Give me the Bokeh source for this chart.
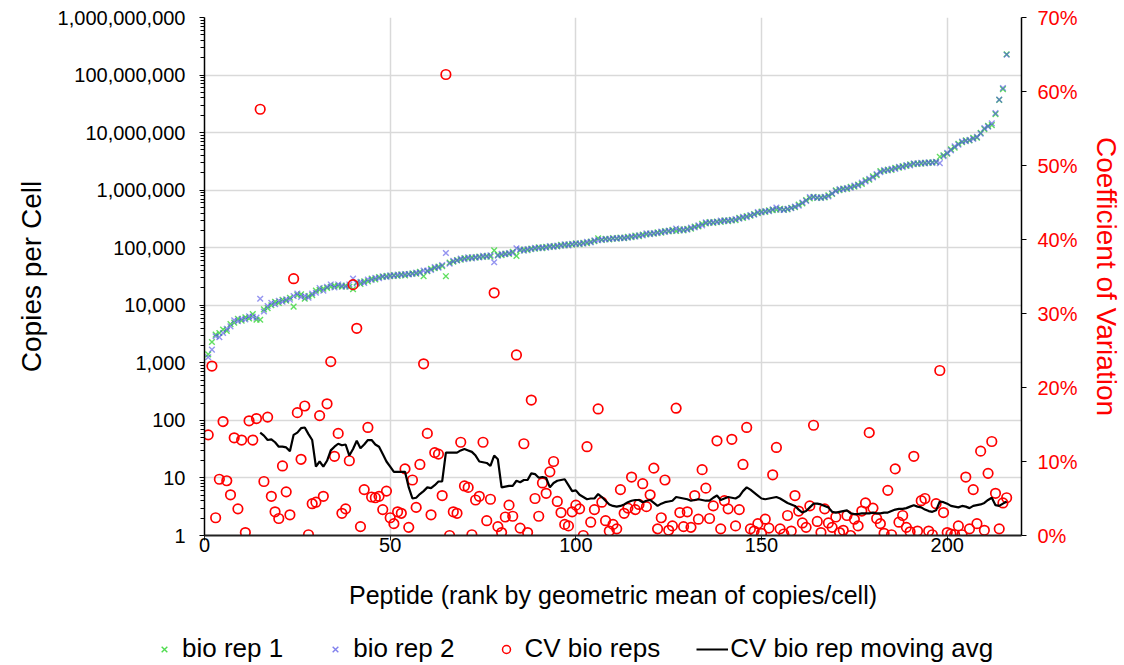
from bokeh.plotting import figure
from bokeh.layouts import column
from bokeh.models import (Range1d, LinearAxis, LinearScale, FixedTicker, NumeralTickFormatter,
                          PrintfTickFormatter, Legend, LegendItem)
from bokeh.embed import file_html
from bokeh.resources import INLINE

# ---------------- data ----------------
peptide_rank = list(range(1, 217))

bio_rep_1 = [
    1.4e3, 2.3e3, 3.1e3, 3.3e3, 3.8e3, 3.6e3, 4.7e3, 5.0e3, 5.8e3, 5.4e3,
    6.2e3, 5.9e3, 7.0e3, 5.6e3, 5.6e3, 8.5e3, 8.9e3, 1.0e4, 1.15e4, 1.1e4,
    1.25e4, 1.2e4, 1.35e4, 9.5e3, 1.5e4, 1.55e4, 1.3e4, 1.45e4, 1.5e4, 1.8e4,
    1.85e4, 1.95e4, 2.0e4, 2.1e4, 2.2e4, 2.15e4, 2.1e4, 2.2e4, 2.1e4, 1.9e4,
    2.5e4, 2.35e4, 2.6e4, 2.6e4, 2.9e4, 2.8e4, 3.1e4, 3.1e4, 3.25e4, 3.2e4,
    3.35e4, 3.25e4, 3.45e4, 3.3e4, 3.5e4, 3.6e4, 3.55e4, 3.8e4, 3.2e4, 3.9e4,
    4.3e4, 4.4e4, 4.7e4, 4.8e4, 3.2e4, 5.5e4, 5.7e4, 6.1e4, 6.2e4, 6.6e4,
    6.5e4, 6.8e4, 6.7e4, 7.0e4, 6.9e4, 7.2e4, 7.0e4, 9.0e4, 7.5e4, 7.4e4,
    7.9e4, 7.8e4, 8.5e4, 7.2e4, 9.0e4, 9.3e4, 9.1e4, 9.7e4, 9.6e4, 1.02e5,
    9.8e4, 1.04e5, 1.03e5, 1.07e5, 1.05e5, 1.12e5, 1.1e5, 1.14e5, 1.13e5, 1.19e5,
    1.15e5, 1.22e5, 1.2e5, 1.28e5, 1.3e5, 1.45e5, 1.36e5, 1.43e5, 1.39e5, 1.47e5,
    1.43e5, 1.5e5, 1.46e5, 1.54e5, 1.52e5, 1.62e5, 1.59e5, 1.7e5, 1.7e5, 1.77e5,
    1.75e5, 1.85e5, 1.83e5, 1.95e5, 1.92e5, 2.04e5, 1.95e5, 2.08e5, 2.0e5, 2.12e5,
    2.15e5, 2.34e5, 2.35e5, 2.6e5, 2.65e5, 2.8e5, 2.7e5, 2.85e5, 2.82e5, 3.0e5,
    2.9e5, 3.05e5, 3.0e5, 3.3e5, 3.3e5, 3.55e5, 3.6e5, 3.85e5, 4.0e5, 4.25e5,
    4.2e5, 4.45e5, 4.5e5, 4.6e5, 4.75e5, 4.6e5, 4.65e5, 4.95e5, 5.05e5, 5.6e5,
    5.9e5, 6.7e5, 7.2e5, 7.7e5, 7.3e5, 7.5e5, 7.5e5, 8.1e5, 8.6e5, 9.9e5,
    1.0e6, 1.07e6, 1.05e6, 1.14e6, 1.15e6, 1.25e6, 1.29e6, 1.48e6, 1.52e6, 1.74e6,
    1.82e6, 2.14e6, 2.15e6, 2.28e6, 2.25e6, 2.45e6, 2.47e6, 2.62e6, 2.65e6, 2.8e6,
    2.83e6, 2.92e6, 2.9e6, 3.0e6, 2.98e6, 3.06e6, 3.05e6, 3.8e6, 4.05e6, 4.3e6,
    5.1e6, 5.5e6, 6.4e6, 6.8e6, 7.35e6, 7.3e6, 8.1e6, 8.2e6, 9.9e6, 1.15e7,
    1.31e7, 1.35e7, 2.1e7, 3.7e7, 5.7e7, 2.3e8,
]

bio_rep_2 = [
    1.25e3, 1.7e3, 2.9e3, 2.8e3, 3.3e3, 3.9e3, 4.3e3, 5.5e3, 5.3e3, 5.8e3,
    5.7e3, 6.4e3, 6.3e3, 6.1e3, 1.3e4, 7.8e3, 9.7e3, 1.1e4, 1.05e4, 1.2e4,
    1.15e4, 1.27e4, 1.25e4, 1.45e4, 1.6e4, 1.4e4, 1.45e4, 1.35e4, 1.6e4, 1.65e4,
    2.0e4, 1.8e4, 2.1e4, 2.3e4, 2.05e4, 2.3e4, 2.2e4, 2.1e4, 2.3e4, 2.9e4,
    2.4e4, 2.55e4, 2.45e4, 2.8e4, 2.75e4, 3.0e4, 2.95e4, 3.2e4, 3.1e4, 3.3e4,
    3.25e4, 3.4e4, 3.35e4, 3.5e4, 3.45e4, 3.5e4, 3.7e4, 3.65e4, 4.0e4, 4.0e4,
    4.1e4, 4.6e4, 4.5e4, 5.0e4, 8.1e4, 5.3e4, 5.9e4, 6.0e4, 6.5e4, 6.3e4,
    6.8e4, 6.5e4, 6.9e4, 6.8e4, 7.2e4, 7.0e4, 7.4e4, 5.6e4, 7.3e4, 7.8e4,
    7.7e4, 8.1e4, 8.1e4, 9.8e4, 9.3e4, 8.9e4, 9.5e4, 9.4e4, 1.0e5, 9.8e4,
    1.02e5, 1.0e5, 1.07e5, 1.03e5, 1.09e5, 1.08e5, 1.14e5, 1.1e5, 1.17e5, 1.16e5,
    1.19e5, 1.18e5, 1.26e5, 1.24e5, 1.34e5, 1.35e5, 1.4e5, 1.39e5, 1.43e5, 1.43e5,
    1.47e5, 1.46e5, 1.5e5, 1.49e5, 1.58e5, 1.55e5, 1.65e5, 1.63e5, 1.78e5, 1.72e5,
    1.8e5, 1.79e5, 1.9e5, 1.88e5, 1.98e5, 1.96e5, 2.15e5, 2.0e5, 2.08e5, 2.06e5,
    2.23e5, 2.25e5, 2.45e5, 2.45e5, 2.75e5, 2.7e5, 2.8e5, 2.78e5, 2.95e5, 2.9e5,
    3.0e5, 2.98e5, 3.15e5, 3.2e5, 3.45e5, 3.4e5, 3.7e5, 3.75e5, 4.15e5, 4.1e5,
    4.35e5, 4.3e5, 4.65e5, 5.0e5, 4.6e5, 4.55e5, 4.75e5, 4.85e5, 5.2e5, 5.4e5,
    6.1e5, 6.5e5, 7.6e5, 7.5e5, 7.5e5, 7.3e5, 7.7e5, 7.8e5, 8.8e5, 9.6e5,
    1.04e6, 1.03e6, 1.09e6, 1.1e6, 1.2e6, 1.21e6, 1.35e6, 1.42e6, 1.58e6, 1.66e6,
    1.9e6, 2.05e6, 2.23e6, 2.2e6, 2.34e6, 2.35e6, 2.55e6, 2.52e6, 2.74e6, 2.7e6,
    2.93e6, 2.85e6, 3.0e6, 2.92e6, 3.06e6, 2.98e6, 3.12e6, 2.95e6, 3.9e6, 4.45e6,
    4.9e6, 5.75e6, 6.2e6, 7.0e6, 7.1e6, 7.5e6, 7.8e6, 8.45e6, 9.6e6, 1.2e7,
    1.27e7, 1.45e7, 2.18e7, 3.75e7, 5.95e7, 2.25e8,
]

# coefficient of variation between bio reps, in percent
cv_bio_reps = [
    13.6, 22.9, 2.4, 7.6, 15.4, 7.4, 5.5, 13.2, 3.6, 12.9,
    0.4, 15.5, 12.9, 15.8, 57.6, 7.3, 16.0, 5.3, 3.2, 2.3,
    9.4, 5.9, 2.8, 34.7, 16.6, 10.3, 17.5, 0.1, 4.3, 4.5,
    16.2, 5.3, 17.8, 23.5, 10.7, 13.8, 3.0, 3.6, 10.1, 33.9,
    28.0, 1.2, 6.2, 14.6, 5.2, 5.1, 5.3, 3.5, 6.0, 2.4,
    1.6, 3.2, 3.0, 9.0, 1.1, 7.5, 3.8, 9.6, 23.2, 13.8,
    2.8, 11.2, 11.0, 5.4, 62.3, 0.0, 3.2, 3.0, 12.6, 6.7,
    6.5, 0.1, 4.8, 5.3, 12.6, 2.0, 4.9, 32.8, 1.2, 0.4,
    2.5, 4.1, 2.6, 24.4, 1.0, 12.4, 0.4, 18.3, 5.0, 2.6,
    7.1, 5.7, 8.6, 10.0, 4.6, 3.1, 1.5, 1.3, 3.2, 4.1,
    3.6, 0.0, 12.0, 1.8, 3.5, 17.1, 4.5, 2.0, 0.6, 1.5,
    0.9, 6.2, 3.0, 3.7, 7.9, 3.5, 4.2, 7.0, 3.9, 5.5,
    9.1, 0.9, 2.4, 7.5, 0.7, 1.3, 17.2, 3.1, 1.2, 3.2,
    1.1, 5.4, 2.2, 8.9, 6.4, 2.3, 4.0, 12.8, 0.9, 4.7,
    3.6, 13.0, 1.3, 3.5, 9.6, 14.6, 0.9, 0.6, 1.6, 0.3,
    2.2, 1.0, 8.2, 11.9, 0.9, 0.2, 2.7, 0.6, 5.4, 3.3,
    1.7, 1.1, 4.0, 14.9, 1.9, 0.4, 3.6, 1.7, 1.1, 2.5,
    0.4, 0.7, 2.7, 0.0, 2.2, 1.3, 3.3, 4.4, 13.9, 3.7,
    2.3, 1.6, 0.3, 6.1, 0.1, 9.0, 1.8, 2.7, 1.1, 0.5,
    10.7, 0.6, 4.7, 5.0, 0.6, 0.1, 4.3, 22.3, 3.1, 0.4,
    0.2, 0.1, 1.3, 0.1, 7.9, 0.9, 6.2, 1.6, 11.4, 0.7,
    8.4, 12.7, 5.7, 0.9, 4.4, 5.1,
]

# moving average of CV (percent), defined from peptide 15 to 216
cv_moving_avg_rank = list(range(15, 217))
cv_moving_avg = [
    13.9, 13.5, 12.9, 13.0, 12.6, 12.0, 12.0, 11.9, 11.4, 13.6,
    13.9, 14.5, 14.6, 13.7, 12.9, 9.3, 10.0, 9.3, 10.1, 11.5,
    12.0, 12.4, 12.2, 12.3, 10.8, 11.7, 12.8, 11.8, 12.3, 12.9,
    12.9, 12.3, 12.0, 11.0, 10.0, 9.3, 8.6, 8.6, 8.6, 8.6,
    6.5, 5.0, 5.1, 5.6, 6.0, 6.5, 6.4, 6.8, 7.3, 7.3,
    11.2, 11.2, 11.2, 11.2, 11.5, 11.7, 11.5, 11.3, 10.8, 10.0,
    9.9, 9.8, 9.4, 10.8, 10.3, 6.5, 6.6, 6.7, 6.7, 7.4,
    7.2, 7.5, 7.5, 8.4, 8.3, 7.8, 7.9, 7.8, 6.5, 7.1,
    7.4, 7.5, 7.6, 6.8, 6.0, 6.1, 5.5, 5.2, 4.9, 5.0,
    5.0, 5.6, 5.2, 4.7, 4.2, 4.0, 3.9, 4.0, 4.2, 4.5,
    4.7, 4.8, 4.8, 4.5, 4.7, 4.8, 4.4, 4.0, 4.3, 4.5,
    4.6, 4.7, 5.2, 5.1, 5.0, 4.9, 4.7, 4.8, 4.9, 4.8,
    4.7, 4.7, 5.1, 5.4, 4.8, 5.0, 5.2, 5.1, 5.0, 5.3,
    6.0, 6.5, 6.2, 5.8, 5.4, 5.0, 4.9, 5.0, 5.1, 5.2,
    5.0, 4.7, 4.4, 4.2, 4.0, 3.5, 3.1, 3.3, 3.8, 4.3,
    4.3, 4.2, 4.0, 3.8, 3.2, 3.1, 3.2, 3.3, 3.4, 3.0,
    2.9, 2.9, 3.0, 3.0, 3.0, 3.1, 3.0, 3.0, 3.1, 3.1,
    3.3, 3.5, 3.6, 3.6, 3.7, 3.9, 4.1, 3.9, 3.8, 3.5,
    3.3, 3.2, 3.4, 4.6, 4.5, 4.3, 4.0, 3.9, 3.8, 4.0,
    3.9, 3.7, 4.0, 4.1, 4.2, 4.4, 4.8, 5.1, 4.1, 4.0,
    4.3, 4.6,
]

x_ticks = [0, 50, 100, 150, 200]
y_decades = [1, 10, 100, 1000, 10000, 100000, 1000000, 10000000, 100000000, 1000000000]
cv_ticks = [0, 10, 20, 30, 40, 50, 60, 70]

series_labels = ["bio rep 1", "bio rep 2", "CV bio reps", "CV bio rep moving avg"]

# ---------------- styles ----------------
FONT = "Liberation Sans"
GREEN = "#4fdc4f"
BLUE = "#4c4ce6"
RED = "#ff0000"

# ---------------- main figure ----------------
p = figure(width=1124, height=615, y_axis_type="log",
           x_range=Range1d(0, 220), y_range=Range1d(1, 1e9),
           output_backend="svg", toolbar_location=None,
           min_border_left=204, min_border_right=102,
           min_border_top=17, min_border_bottom=80)
p.outline_line_color = None
p.background_fill_color = "white"
p.border_fill_color = "white"
p.frame_align = False

p.extra_y_ranges = {"cv": Range1d(0, 70)}
p.extra_y_scales = {"cv": LinearScale()}

minor = [m * d for d in y_decades[:-1] for m in range(2, 10)]
yticker = FixedTicker(ticks=y_decades, minor_ticks=minor)
xticker = FixedTicker(ticks=x_ticks)

p.xaxis.ticker = xticker
p.yaxis.ticker = yticker
p.xgrid.ticker = xticker
p.ygrid.ticker = yticker
for g in (p.xgrid, p.ygrid):
    g.grid_line_color = "#d9d9d9"
    g.grid_line_width = 1.5

p.yaxis.formatter = NumeralTickFormatter(format="0,0")

xa = p.xaxis[0]
xa.axis_label = "Peptide (rank by geometric mean of copies/cell)"
xa.axis_line_color = "#222222"
xa.axis_line_width = 2
xa.major_tick_line_color = "#222222"
xa.major_tick_out = 5
xa.major_tick_in = 0
xa.minor_tick_line_color = None
xa.major_label_standoff = -3
xa.axis_label_standoff = 26

ya = p.yaxis[0]
ya.axis_label = "Copies per Cell"
ya.axis_line_color = "black"
ya.axis_line_width = 1.5
ya.major_tick_line_color = "black"
ya.minor_tick_line_color = "black"
ya.major_tick_out = 5
ya.major_tick_in = 0
ya.minor_tick_out = 4
ya.minor_tick_in = 0
ya.major_label_standoff = 14
ya.axis_label_standoff = 8

ax2 = LinearAxis(y_range_name="cv", ticker=FixedTicker(ticks=cv_ticks),
                 formatter=PrintfTickFormatter(format="%d%%"),
                 axis_label="Coefficient of Variation")
ax2.axis_line_color = "black"
ax2.axis_line_width = 1.5
ax2.major_tick_line_color = "black"
ax2.major_tick_out = 5
ax2.major_tick_in = 0
ax2.minor_tick_line_color = None
ax2.major_label_standoff = 11
ax2.axis_label_standoff = 10
ax2.major_label_text_color = RED
ax2.axis_label_text_color = RED
p.add_layout(ax2, "right")

for ax in (xa, ya, ax2):
    ax.major_label_text_font = FONT
    ax.major_label_text_font_size = "20px"
    ax.axis_label_text_font = FONT
    ax.axis_label_text_font_style = "normal"
xa.axis_label_text_font_size = "25px"
ya.axis_label_text_font_size = "28px"
ax2.axis_label_text_font_size = "28px"
xa.major_label_text_color = "black"
ya.major_label_text_color = "black"
xa.axis_label_text_color = "black"
ya.axis_label_text_color = "black"

# ---------------- glyphs ----------------
p.scatter(peptide_rank, bio_rep_1, marker="x", size=8, line_width=1.4,
          line_color=GREEN, line_alpha=0.9)
p.scatter(peptide_rank, bio_rep_2, marker="x", size=8, line_width=1.4,
          line_color=BLUE, line_alpha=0.6)
p.scatter(peptide_rank, cv_bio_reps, marker="circle", size=9.5,
          fill_color=None, line_color=RED, line_width=1.7,
          y_range_name="cv")
p.line(cv_moving_avg_rank, cv_moving_avg, line_color="black",
       line_width=2.2, y_range_name="cv")

# ---------------- legend strip (separate small figure below) ----------------
# the same series are drawn here, but the strip's ranges keep them out of view;
# only their legend keys are shown
lg = figure(width=1124, height=50, x_range=Range1d(-2, -1), y_range=Range1d(-2, -1),
            output_backend="svg", toolbar_location=None,
            min_border_left=0, min_border_right=0, min_border_top=0, min_border_bottom=0)
lg.frame_align = False
lg.axis.visible = False
lg.grid.visible = False
lg.outline_line_color = None
lg.background_fill_color = "white"
lg.border_fill_color = "white"
k1 = lg.scatter(peptide_rank, bio_rep_1, marker="x", size=7, line_width=1.4, line_color=GREEN)
k2 = lg.scatter(peptide_rank, bio_rep_2, marker="x", size=7, line_width=1.4, line_color=BLUE,
                line_alpha=0.7)
k3 = lg.scatter(peptide_rank, cv_bio_reps, marker="circle", size=8, fill_color=None,
                line_color=RED, line_width=1.5)
k4 = lg.line(cv_moving_avg_rank, cv_moving_avg, line_color="black", line_width=2.2)

legend = Legend(items=[LegendItem(label=series_labels[0], renderers=[k1]),
                       LegendItem(label=series_labels[1], renderers=[k2]),
                       LegendItem(label=series_labels[2], renderers=[k3]),
                       LegendItem(label=series_labels[3], renderers=[k4])],
                orientation="horizontal", location=(148, 1),
                label_text_font=FONT, label_text_font_size="26px",
                label_text_color="black",
                glyph_width=32, glyph_height=20, label_standoff=2,
                spacing=36, padding=2, margin=0,
                border_line_color=None, background_fill_alpha=0)
lg.add_layout(legend)

layout = column(p, lg, spacing=0)
open("out.html", "w").write(file_html(layout, INLINE))
